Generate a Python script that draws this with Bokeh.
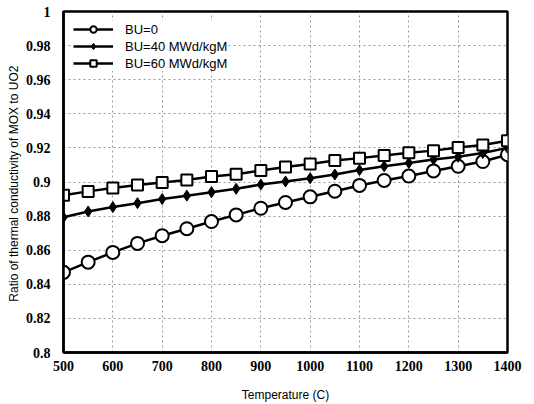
from bokeh.plotting import figure
from bokeh.models import FixedTicker, CustomJSTickFormatter, Legend, LegendItem, Range1d
from bokeh.embed import file_html
from bokeh.resources import INLINE

temperature = [500, 550, 600, 650, 700, 750, 800, 850, 900, 950,
               1000, 1050, 1100, 1150, 1200, 1250, 1300, 1350, 1400]
bu0 = [0.847, 0.853, 0.8587, 0.864, 0.8685, 0.8726, 0.8768, 0.8807, 0.8846, 0.8880,
       0.8913, 0.8946, 0.8980, 0.9009, 0.9035, 0.9065, 0.9092, 0.9120, 0.9160]
bu40 = [0.8793, 0.8827, 0.8853, 0.8876, 0.8900, 0.8920, 0.8940, 0.8960, 0.8985, 0.9003,
        0.9022, 0.9044, 0.9070, 0.9092, 0.9112, 0.9132, 0.9148, 0.9170, 0.9200]
bu60 = [0.8922, 0.8945, 0.8965, 0.8982, 0.8997, 0.9012, 0.9032, 0.9046, 0.9068, 0.9088,
        0.9106, 0.9126, 0.9140, 0.9156, 0.9172, 0.9184, 0.9203, 0.9217, 0.9242]
series_labels = ["BU=0", "BU=40 MWd/kgM", "BU=60 MWd/kgM"]
x_ticks = [500, 600, 700, 800, 900, 1000, 1100, 1200, 1300, 1400]
y_ticks = [0.8, 0.82, 0.84, 0.86, 0.88, 0.9, 0.92, 0.94, 0.96, 0.98, 1.0]

p = figure(width=534, height=404, output_backend="svg", toolbar_location=None,
           x_range=Range1d(500, 1400), y_range=Range1d(0.8, 1.0),
           min_border_left=63, min_border_right=27, min_border_top=11, min_border_bottom=52)

p.outline_line_color = "black"
p.outline_line_width = 2.5

for ax in (p.xaxis[0], p.yaxis[0]):
    ax.axis_line_width = 2.5
    ax.axis_line_color = "black"
    ax.major_tick_line_color = None
    ax.minor_tick_line_color = None
    ax.major_label_text_font = "serif"
    ax.major_label_text_font_style = "bold"
    ax.major_label_text_font_size = "14px"
    ax.major_label_text_color = "black"
    ax.axis_label_text_font = "Liberation Sans"
    ax.axis_label_text_font_style = "normal"
    ax.axis_label_text_font_size = "12px"
    ax.axis_label_text_color = "black"

p.xaxis.ticker = FixedTicker(ticks=x_ticks)
p.yaxis.ticker = FixedTicker(ticks=y_ticks)
p.yaxis.formatter = CustomJSTickFormatter(
    code="return tick.toFixed(2).replace(/0+$/, '').replace(/\\.$/, '');")
p.xaxis.major_label_standoff = 2
p.yaxis.major_label_standoff = 7
p.xaxis.axis_label = "Temperature (C)"
p.yaxis.axis_label = "Ratio of thermal conductivity of MOX  to UO2"
p.xaxis.axis_label_standoff = 14
p.yaxis.axis_label_standoff = 2

p.xgrid.grid_line_color = "#555555"
p.ygrid.grid_line_color = "#555555"
p.xgrid.grid_line_dash = "2 3"
p.ygrid.grid_line_dash = "2 3"
p.xgrid.grid_line_width = 1
p.ygrid.grid_line_width = 1
p.xgrid.grid_line_alpha = 0.6
p.ygrid.grid_line_alpha = 0.6

l0 = p.line(temperature, bu0, line_color="black", line_width=2.5)
s0 = p.scatter(temperature, bu0, marker="circle", size=13, line_color="black",
               line_width=2, fill_color="white")
l1 = p.line(temperature, bu40, line_color="black", line_width=2.5)
s1 = p.scatter(temperature, bu40, marker="diamond", size=11, line_color="black",
               line_width=1, fill_color="black")
l2 = p.line(temperature, bu60, line_color="black", line_width=2.5)
s2 = p.scatter(temperature, bu60, marker="square", size=11, line_color="black",
               line_width=2, fill_color="white")

legend = Legend(items=[
    LegendItem(label=series_labels[0], renderers=[l0, s0]),
    LegendItem(label=series_labels[1], renderers=[l1, s1]),
    LegendItem(label=series_labels[2], renderers=[l2, s2]),
], location="top_left", margin=10, padding=8, spacing=1,
   glyph_width=40, glyph_height=16, label_standoff=12,
   label_text_font="Liberation Sans", label_text_font_size="13px",
   label_text_color="black", border_line_color=None,
   background_fill_color="white", background_fill_alpha=1)
p.add_layout(legend)

open("out.html", "w").write(file_html(p, INLINE))
